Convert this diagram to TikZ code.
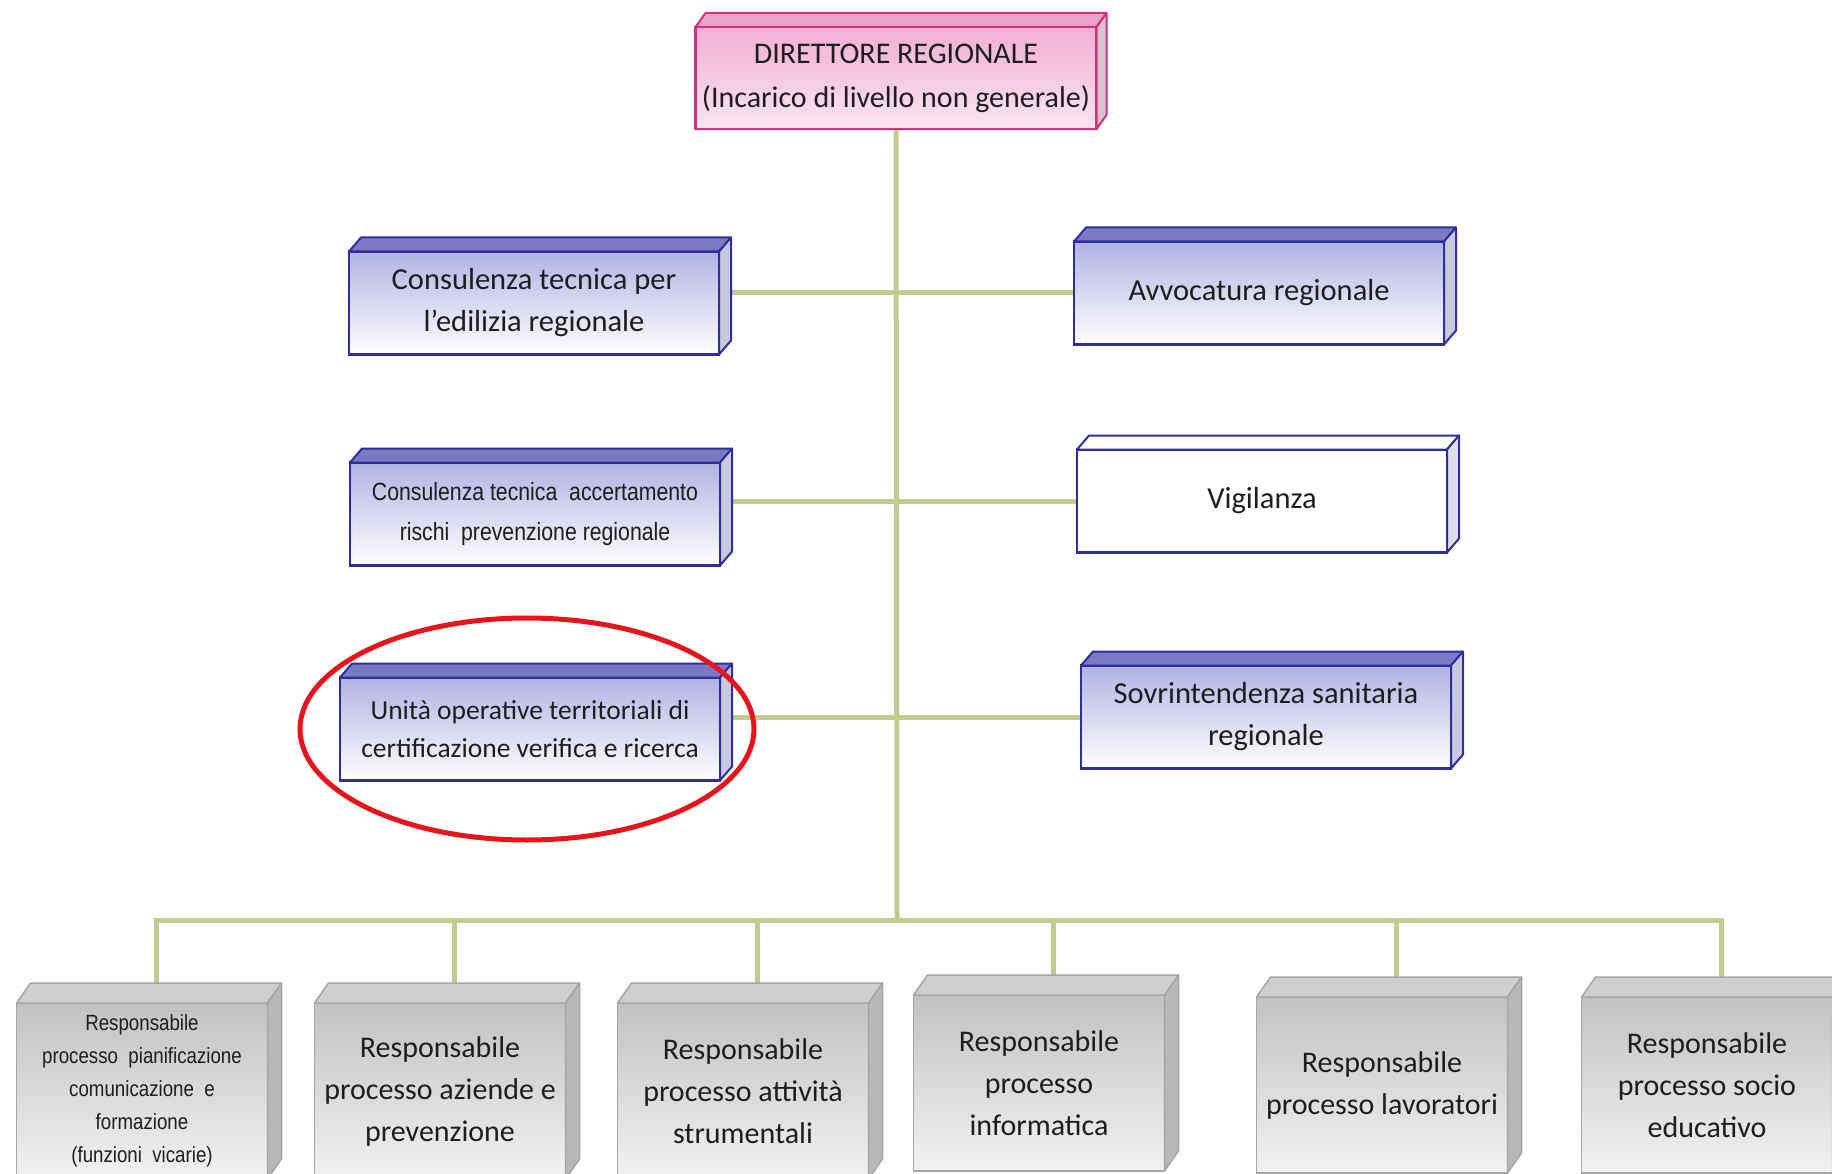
\documentclass[tikz,border=0pt]{standalone}
\usepackage{fontspec}
\setmainfont{Carlito}
\newfontfamily\stretto[FakeStretch=0.85]{Liberation Sans}
\usetikzlibrary{backgrounds}

\definecolor{lineaverde}{HTML}{C3CB8E}
\definecolor{bordoblu}{HTML}{2E2E9C}
\definecolor{blutop}{HTML}{B2B2E4}
\definecolor{facciablu}{HTML}{7A7AC4}
\definecolor{latoblu}{HTML}{C9C9DE}
\definecolor{bordorosa}{HTML}{D4307E}
\definecolor{rosatop}{HTML}{F2AED4}
\definecolor{rosabot}{HTML}{FBE6F1}
\definecolor{facciarosa}{HTML}{EBA2CA}
\definecolor{latorosa}{HTML}{D6C4CE}
\definecolor{bordogrigio}{HTML}{A6A6A6}
\definecolor{grigiotop}{HTML}{C2C2C2}
\definecolor{grigiobot}{HTML}{F2F2F2}
\definecolor{facciagrigia}{HTML}{CFCFCF}
\definecolor{latogrigio}{HTML}{B8B8B8}
\definecolor{testo}{HTML}{1E1E1E}
\definecolor{rosso}{HTML}{E8141C}

\tikzset{
  linea/.style={draw=lineaverde, line width=5pt},
  ufficio/.style={rectangle, outer sep=0pt, inner sep=2pt, align=center, text=testo,
    font=\fontsize{30.5}{42}\selectfont},
  rosa/.style={ufficio, draw=bordorosa, line width=2.5pt, top color=rosatop, bottom color=rosabot,
    minimum width=401pt, minimum height=102pt, font=\fontsize{30}{44}\selectfont},
  blu/.style={ufficio, draw=bordoblu, line width=2.5pt, top color=blutop, bottom color=white,
    minimum width=370pt, minimum height=103pt},
  bianco/.style={blu, top color=white, bottom color=white},
  grigio/.style={ufficio, draw=bordogrigio, line width=1.5pt, top color=grigiotop, bottom color=grigiobot,
    minimum width=251pt, minimum height=176pt, font=\fontsize{30}{42}\selectfont},
  sopra/.style={draw=#1, line width=2pt, line join=round},
  evidenza/.style={draw=rosso, line width=5pt}
}

\begin{document}
\begin{tikzpicture}[x=1pt, y=-1pt]
  \useasboundingbox (0,0) rectangle (1832,1174);
  \clip (0,0) rectangle (1832,1174);

  % Direttore
  \node[rosa] (dir) at (896,78) {DIRETTORE REGIONALE\\(Incarico di livello non generale)};

  % staff, colonna sinistra
  \node[blu] (cons) at (534,303) {Consulenza tecnica per\\l'edilizia regionale};
  \node[blu, font=\stretto\fontsize{25}{40}\selectfont] (accert) at (535,514)
    {Consulenza tecnica\ \ accertamento\\rischi\ \ prevenzione regionale};
  \node[blu, font=\fontsize{27.5}{38}\selectfont, minimum width=380pt] (unita) at (530,729)
    {Unità operative territoriali di\\certificazione verifica e ricerca};

  % staff, colonna destra
  \node[blu] (avv) at (1259,293) {Avvocatura regionale};
  \node[bianco] (vig) at (1262,501) {Vigilanza};
  \node[blu] (sovr) at (1266,717) {Sovrintendenza sanitaria\\regionale};

  % responsabili di processo
  \node[grigio, font=\stretto\fontsize{22}{33}\selectfont] (r1) at (142,1091)
    {Responsabile\\processo\ \ pianificazione\\comunicazione\ \ e\\formazione\\(funzioni\ \ vicarie)};
  \node[grigio] (r2) at (440,1091) {Responsabile\\processo aziende e\\prevenzione};
  \node[grigio] (r3) at (743,1091) {Responsabile\\processo attività\\strumentali};
  \node[grigio] (r4) at (1039,1083) {Responsabile\\processo\\informatica};
  \node[grigio] (r5) at (1382,1085) {Responsabile\\processo lavoratori};
  \node[grigio] (r6) at (1707,1085) {Responsabile\\processo socio\\educativo};

  % facce in rilievo
  \filldraw[sopra=bordorosa, fill=facciarosa] (dir.north west) -- ++(10,-14)
    -- ([shift={(10,-14)}]dir.north east) -- (dir.north east) -- cycle;
  \filldraw[sopra=bordorosa, fill=latorosa] (dir.north east) -- ++(10,-14)
    -- ([shift={(10,-14)}]dir.south east) -- (dir.south east) -- cycle;
  \foreach \n in {cons,accert,unita,avv,sovr} {
    \filldraw[sopra=bordoblu, fill=facciablu] (\n.north west) -- ++(12,-14)
      -- ([shift={(12,-14)}]\n.north east) -- (\n.north east) -- cycle;
    \filldraw[sopra=bordoblu, fill=latoblu] (\n.north east) -- ++(12,-14)
      -- ([shift={(12,-14)}]\n.south east) -- (\n.south east) -- cycle;
  }
  \filldraw[sopra=bordoblu, fill=white] (vig.north west) -- ++(12,-14)
    -- ([shift={(12,-14)}]vig.north east) -- (vig.north east) -- cycle;
  \filldraw[sopra=bordoblu, fill=latoblu!60] (vig.north east) -- ++(12,-14)
    -- ([shift={(12,-14)}]vig.south east) -- (vig.south east) -- cycle;
  \foreach \i in {1,...,6} {
    \filldraw[sopra=bordogrigio, line width=1.5pt, fill=facciagrigia] (r\i.north west) -- ++(14,-20)
      -- ([shift={(14,-20)}]r\i.north east) -- (r\i.north east) -- cycle;
    \filldraw[sopra=bordogrigio, line width=1.5pt, fill=latogrigio] (r\i.north east) -- ++(14,-20)
      -- ([shift={(14,-20)}]r\i.south east) -- (r\i.south east) -- cycle;
  }

  % evidenziazione
  \draw[evidenza] (527,729) ellipse [x radius=227, y radius=111];

  % collegamenti
  \begin{pgfonlayer}{background}
    \coordinate (nodo) at (897,920);
    \draw[linea] (dir.south) -- (nodo);
    \draw[linea] (cons.east |- avv.west) -- (avv.west);
    \draw[linea] (accert.east |- vig.west) -- (vig.west);
    \draw[linea] (unita.east |- sovr.west) -- (sovr.west);
    \foreach \i in {1,...,6}
      \draw[linea] ([shift={(14,-20)}]r\i.north) |- (nodo);
  \end{pgfonlayer}
\end{tikzpicture}
\end{document}
